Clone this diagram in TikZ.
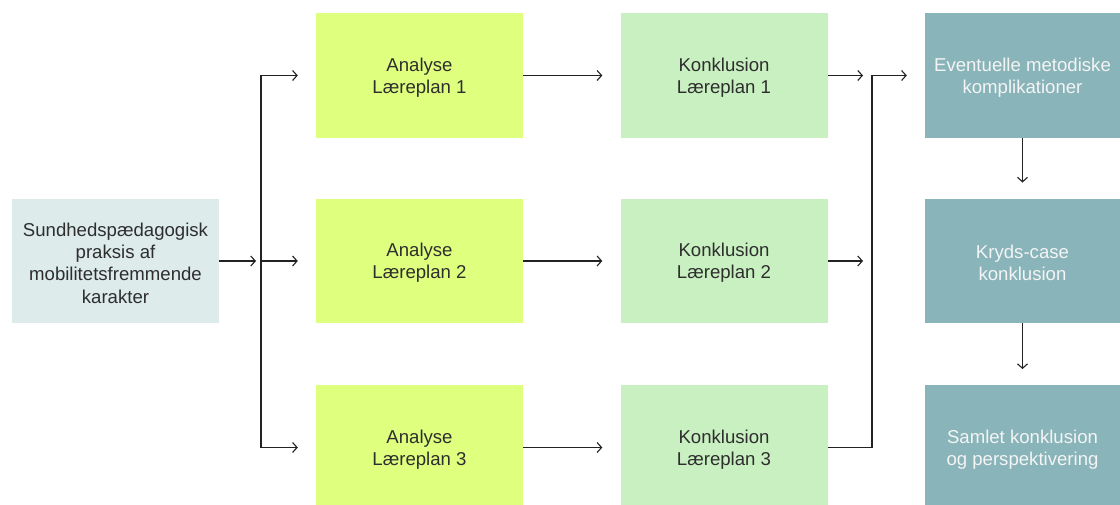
\documentclass[tikz,border=0pt]{standalone}
\usepackage{fontspec}
\setmainfont{Liberation Sans}
\usetikzlibrary{arrows.meta}
\definecolor{leftc}{HTML}{DDEBEB}
\definecolor{limec}{HTML}{DFFF7F}
\definecolor{konc}{HTML}{C9F0C1}
\definecolor{tealc}{HTML}{89B4B9}
\definecolor{txtc}{HTML}{2E2E2E}
\definecolor{wtxt}{HTML}{F4F4F4}
\definecolor{linec}{HTML}{222222}
\begin{document}
\begin{tikzpicture}[x=1pt,y=-1pt,
  box/.style={draw=none,minimum width=207pt,minimum height=124.5pt,inner sep=0pt},
  lbl/.style={align=center,inner sep=0pt,yshift=-2pt,
    font=\fontsize{18.6}{22.3}\selectfont,text=txtc},
  wlbl/.style={lbl,text=wtxt},
  srcbox/.style={box,fill=leftc},
  anbox/.style={box,fill=limec},
  konbox/.style={box,fill=konc},
  resbox/.style={box,fill=tealc,minimum width=195pt},
  conn/.style={draw=linec,line width=1.1pt},
  arr/.style={conn,-{Straight Barb[length=4.5pt,width=10pt,line width=1.1pt]}}]
\useasboundingbox (0,0) rectangle (1120,505);
\fill[white] (0,0) rectangle (1120,505);
\begin{scope}
\clip (0,0) rectangle (1120,505);
\node[srcbox,label={[lbl]center:{Sundhedspædagogisk\\praksis af\\mobilitetsfremmende\\karakter}}] (src) at (115.5,261) {};
\node[anbox,label={[lbl]center:{Analyse\\Læreplan 1}}] (a1) at (419.5,75.5) {};
\node[anbox,label={[lbl]center:{Analyse\\Læreplan 2}}] (a2) at (419.5,261) {};
\node[anbox,label={[lbl]center:{Analyse\\Læreplan 3}}] (a3) at (419.5,447.5) {};
\node[konbox,label={[lbl]center:{Konklusion\\Læreplan 1}}] (k1) at (724,75.5) {};
\node[konbox,label={[lbl]center:{Konklusion\\Læreplan 2}}] (k2) at (724,261) {};
\node[konbox,label={[lbl]center:{Konklusion\\Læreplan 3}}] (k3) at (724,447.5) {};
\node[resbox,label={[wlbl]center:{Eventuelle metodiske\\komplikationer}}] (r1) at (1022.5,75.5) {};
\node[resbox,label={[wlbl]center:{Kryds-case\\konklusion}}] (r2) at (1022.5,261) {};
\node[resbox,label={[wlbl]center:{Samlet konklusion\\og perspektivering}}] (r3) at (1022.5,447.5) {};
\end{scope}
% junction left
\coordinate (jt) at (261,75.5);
\coordinate (jm) at (261,261);
\coordinate (jb) at (261,447.5);
\draw[arr,shorten >=5pt] (src.east) -- (jm);
\draw[conn] (jt) -- (jb);
\draw[arr,shorten >=18pt] (jt) -- (a1.west);
\draw[arr,shorten >=18pt] (jm) -- (a2.west);
\draw[arr,shorten >=18pt] (jb) -- (a3.west);
% analyse -> konklusion
\draw[arr,shorten >=18pt] (a1.east) -- (k1.west);
\draw[arr,shorten >=18pt] (a2.east) -- (k2.west);
\draw[arr,shorten >=18pt] (a3.east) -- (k3.west);
% konklusion -> results
\coordinate (qt) at (872,75.5);
\coordinate (qm) at (872,261);
\coordinate (qb) at (872,447.5);
\draw[arr,shorten >=9pt] (k1.east) -- (qt);
\draw[arr,shorten >=9pt] (k2.east) -- (qm);
\draw[conn] (k3.east) -- (qb) -- (qt);
\draw[arr,shorten >=18pt] (qt) -- (r1.west);
% vertical
\draw[arr,shorten >=16pt] (r1.south) -- (r2.north);
\draw[arr,shorten >=16pt] (r2.south) -- (r3.north);
\end{tikzpicture}
\end{document}
